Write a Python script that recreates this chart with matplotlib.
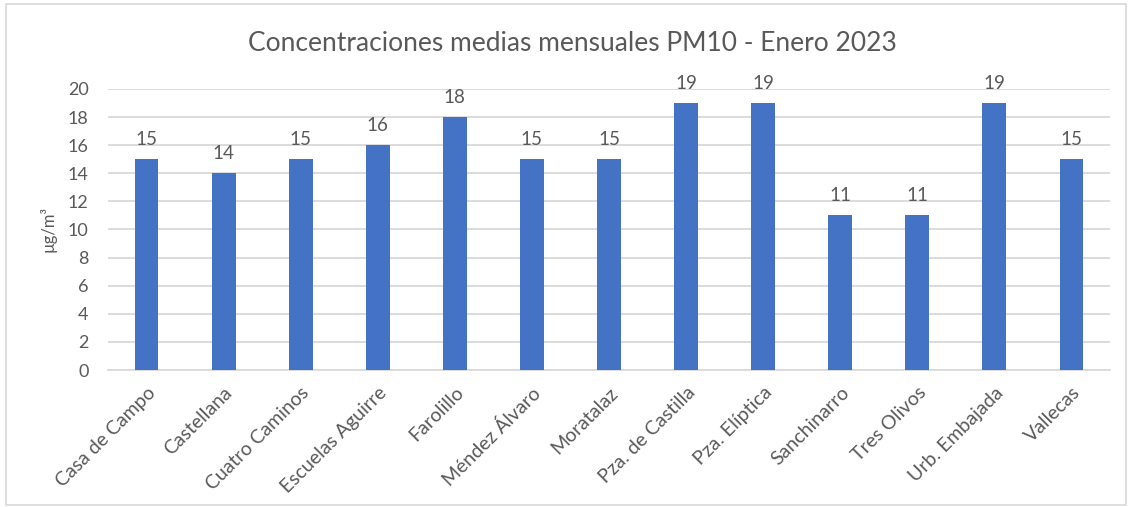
import matplotlib
matplotlib.use("Agg")
import matplotlib.pyplot as plt
from matplotlib.patches import Rectangle

plt.rcParams['font.family'] = ['Lato', 'DejaVu Sans']

stations = ["Casa de Campo", "Castellana", "Cuatro Caminos", "Escuelas Aguirre",
            "Farolillo", "Méndez Álvaro", "Moratalaz", "Pza. de Castilla",
            "Pza. Elíptica", "Sanchinarro", "Tres Olivos", "Urb. Embajada", "Vallecas"]
values = [15, 14, 15, 16, 18, 15, 15, 19, 19, 11, 11, 19, 15]
yticks = [0, 2, 4, 6, 8, 10, 12, 14, 16, 18, 20]

title = "Concentraciones medias mensuales PM10 - Enero 2023"
ylabel = "µg/m³"

txt = "#595959"
grid = "#D9D9D9"
bar_color = "#4472C4"

fig = plt.figure(figsize=(11.32, 5.07), dpi=100)
fig.patches.append(Rectangle((0.005, 0.004), 0.99, 0.988, transform=fig.transFigure,
                             fill=False, edgecolor="#D9D9D9", linewidth=1.2))
ax = fig.add_axes([0.0954, 0.2702, 0.8852, 0.5543])

x = range(len(stations))
bars = ax.bar(x, values, width=0.31, color=bar_color, zorder=3)
for xi, v in zip(x, values):
    ax.text(xi, v + 0.8, str(v), ha="center", va="bottom", fontsize=13.5, color=txt)

ax.set_xlim(-0.5, len(stations) - 0.5)
ax.set_ylim(0, 20)
ax.set_yticks(yticks)
ax.set_yticklabels([str(t) for t in yticks])
ax.set_xticks(list(x))
ax.set_xticklabels(stations, rotation=45, ha="right", rotation_mode="anchor", fontsize=14)
ax.tick_params(axis="both", length=0, colors=txt)
ax.tick_params(axis="y", pad=14, labelsize=13)
ax.tick_params(axis="x", pad=10)
ax.grid(axis="y", color=grid, linewidth=1.3, zorder=0)
for s in ["top", "right", "left"]:
    ax.spines[s].set_visible(False)
ax.spines["bottom"].set_color(grid)
ax.spines["bottom"].set_linewidth(1.3)

ax.set_ylabel(ylabel, fontsize=12, color=txt, labelpad=8)
fig.text(0.506, 0.915, title, ha="center", va="center", fontsize=19, color=txt)

fig.savefig("out.png", dpi=100)
